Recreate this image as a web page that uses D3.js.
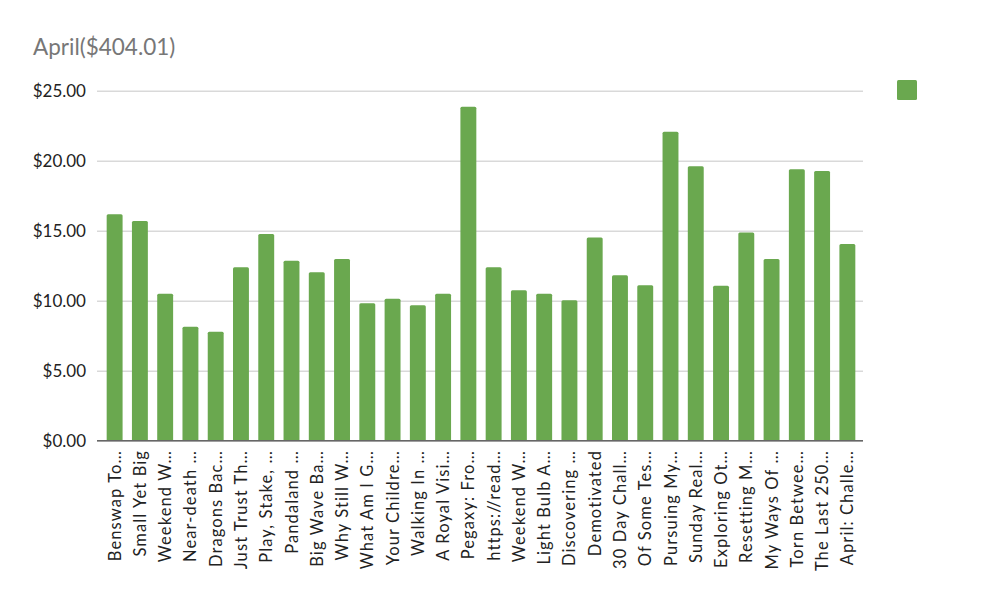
<!DOCTYPE html>
<meta charset="utf-8">
<script src="https://d3js.org/d3.v7.min.js"></script>
<style>
  body { margin: 0; background: #fff; }
  text { font-family: Lato, "Open Sans", sans-serif; }
</style>
<div id="chart"></div>
<script>
// data
const titles = ["Benswap To…", "Small Yet Big", "Weekend W…", "Near-death …", "Dragons Bac…",
  "Just Trust Th…", "Play, Stake, …", "Pandaland …", "Big Wave Ba…", "Why Still W…",
  "What Am I G…", "Your Childre…", "Walking In …", "A Royal Visi…", "Pegaxy: Fro…",
  "https://read…", "Weekend W…", "Light Bulb A…", "Discovering …", "Demotivated",
  "30 Day Chall…", "Of Some Tes…", "Pursuing My…", "Sunday Real…", "Exploring Ot…",
  "Resetting M…", "My Ways Of …", "Torn Betwee…", "The Last 250…", "April: Challe…"];
const earnings = [16.17, 15.69, 10.50, 8.14, 7.79, 12.39, 14.76, 12.86, 12.03, 12.98,
  9.81, 10.14, 9.67, 10.50, 23.86, 12.39, 10.74, 10.50, 10.03, 14.52,
  11.81, 11.10, 22.07, 19.60, 11.07, 14.88, 12.98, 19.39, 19.26, 14.05];
const yTicks = [0, 5, 10, 15, 20, 25];
const chartTitle = "April($404.01)";

const W = 988, H = 600;
const svg = d3.select("#chart").append("svg")
  .attr("width", W).attr("height", H);

const x = d3.scaleBand()
  .domain(d3.range(titles.length))
  .range([102, 860])
  .paddingInner(0.37)
  .paddingOuter(0.185);

const y = d3.scaleLinear()
  .domain([0, 25])
  .range([440.7, 90.7]);

// title
svg.append("text")
  .attr("x", 33).attr("y", 55)
  .attr("font-size", 22.5)
  .attr("fill", "#777")
  .text(chartTitle);

// gridlines + y labels
const yAxis = svg.append("g")
  .attr("transform", "translate(97,0)")
  .call(d3.axisLeft(y).tickValues(yTicks)
    .tickSize(-766).tickPadding(11)
    .tickFormat(d => "$" + d3.format(".2f")(d)));
yAxis.select(".domain").remove();
yAxis.selectAll(".tick line").attr("stroke", "#d9d9d9").attr("stroke-width", 1.6);
yAxis.selectAll(".tick text")
  .attr("font-size", 17).attr("fill", "#222")
  .style("font-family", "Lato, 'Open Sans', sans-serif");

// bars
svg.append("g").selectAll("rect")
  .data(earnings)
  .join("rect")
  .attr("x", (d, i) => x(i))
  .attr("width", x.bandwidth())
  .attr("y", d => y(d))
  .attr("height", d => y(0) - y(d))
  .attr("rx", 1.5)
  .attr("fill", "#6aa84f");

// baseline
svg.append("line")
  .attr("x1", 97).attr("x2", 863)
  .attr("y1", y(0)).attr("y2", y(0))
  .attr("stroke", "#666").attr("stroke-width", 1.5);

// x labels, rotated
svg.append("g").selectAll("text")
  .data(titles)
  .join("text")
  .attr("transform", (d, i) => "translate(" + (x(i) + x.bandwidth() / 2 + 6) + "," + 450 + ") rotate(-90)")
  .attr("text-anchor", "end")
  .attr("font-size", 16.5)
  .attr("letter-spacing", 1.1)
  .attr("fill", "#222")
  .text(d => d);

// legend swatch
svg.append("rect")
  .attr("x", 897).attr("y", 80)
  .attr("width", 20).attr("height", 20)
  .attr("rx", 1.5)
  .attr("fill", "#6aa84f");
</script>
